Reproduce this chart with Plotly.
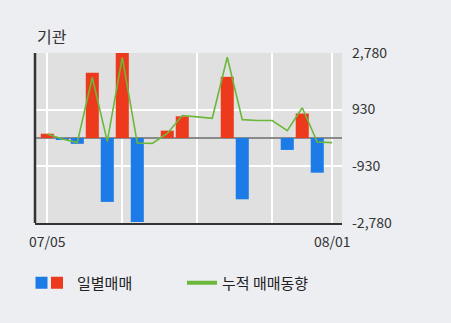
import plotly.graph_objects as go

dates = ["07/05", "07/08", "07/09", "07/10", "07/11", "07/12", "07/15", "07/16",
         "07/17", "07/18", "07/19", "07/22", "07/23", "07/24", "07/25", "07/26",
         "07/29", "07/30", "07/31", "08/01"]
daily = [140, -60, -190, 2135, -2090, 2780, -2750, 0, 240, 710, 0, 0,
         2000, -2005, 0, 0, -390, 800, -1135, 0]
trend = [130, -30, -145, 1980, -110, 2640, -165, -175, 150, 735, 690, 645,
         2640, 600, 570, 570, 240, 990, -130, -150]
ytick_vals = [-2780, -930, 930, 2780]
ytick_text = ["-2,780", "-930", "930", "2,780"]
xtick_vals = ["07/05", "07/12", "07/19", "07/26", "08/01"]
xtick_text = ["07/05", "", "", "", "08/01"]

RED = "#ee3a1c"
BLUE = "#1c7be6"
GREEN = "#6cb83a"
FONT = "Noto Sans CJK KR"

pos = [v if v > 0 else None for v in daily]
neg = [v if v < 0 else None for v in daily]

fig = go.Figure()
fig.add_trace(go.Bar(x=dates, y=neg, marker=dict(color=BLUE, line=dict(width=0)),
                     width=0.87, name="", legend="legend"))
fig.add_trace(go.Bar(x=dates, y=pos, marker=dict(color=RED, line=dict(width=0)),
                     width=0.87, name="일별매매", legend="legend2"))
fig.add_trace(go.Scatter(x=dates, y=trend, mode="lines",
                         line=dict(color=GREEN, width=1.6), showlegend=False))
fig.add_trace(go.Scatter(x=[None], y=[None], mode="lines",
                         line=dict(color=GREEN, width=4), name="누적 매매동향",
                         legend="legend3"))

W, H = 451, 323
L, R, T, B = 35, 342, 53, 223
def px_x(p):
    return (p - L) / (R - L)
def px_y(p):
    return (B - p) / (B - T)

legend_common = dict(orientation="h", bgcolor="rgba(0,0,0,0)", borderwidth=0,
                     font=dict(family=FONT, size=15, color="#222"),
                     xanchor="left", yanchor="middle", y=px_y(283))

fig.update_layout(
    width=W, height=H,
    margin=dict(l=L, r=W - R, t=T, b=H - B, pad=0),
    paper_bgcolor="#eceef2",
    plot_bgcolor="#e0e0e0",
    barmode="overlay",
    title=dict(text="기관", x=px_x(37), xref="paper", xanchor="left",
               y=1 - 37 / H, yref="container", yanchor="middle",
               font=dict(family=FONT, size=16, color="#333")),
    legend=dict(legend_common, x=px_x(21.5)),
    legend2=dict(legend_common, x=px_x(37)),
    legend3=dict(legend_common, x=px_x(182)),
    xaxis=dict(type="category", range=[-0.82, 19.65],
               tickvals=xtick_vals, ticktext=xtick_text,
               showgrid=True, gridcolor="#ffffff", gridwidth=1.5,
               showline=True, linecolor="#333333", linewidth=2,
               ticks="", ticklabelstandoff=5,
               tickfont=dict(family=FONT, size=14, color="#333"),
               zeroline=False),
    yaxis=dict(range=[-2780, 2780], side="right",
               tickvals=ytick_vals, ticktext=ytick_text,
               showgrid=True, gridcolor="#ffffff", gridwidth=1.5,
               zeroline=True, zerolinecolor="#8a8a8a", zerolinewidth=2,
               showline=False, ticks="", ticklabelstandoff=9,
               tickfont=dict(family=FONT, size=14, color="#333")),
    shapes=[dict(type="line", xref="paper", yref="paper", x0=0, x1=0, y0=0, y1=1,
                 line=dict(color="#333333", width=2.5), layer="above")],
)

fig.write_html("out.html")
